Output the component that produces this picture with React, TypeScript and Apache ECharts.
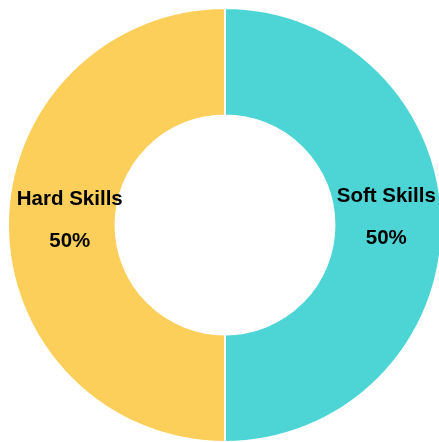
import React, { useEffect, useRef } from "react";
import * as echarts from "echarts";

const categories = ["Soft Skills", "Hard Skills"];
const values = [50, 50];
const colors = ["#4dd4d5", "#fccf5b"];
const labelKeys = ["r", "l"];
const tailKeys = ["er", "el"];

export default function App() {
  const ref = useRef<HTMLDivElement>(null);
  useEffect(() => {
    if (!ref.current) return;
    const chart = echarts.init(ref.current, null, { renderer: "svg" });
    const textBase = {
      color: "#000000",
      fontFamily: "Liberation Sans, Arial, sans-serif",
      fontWeight: "bold",
      fontSize: 20.5,
      lineHeight: 21,
    };
    chart.setOption({
      animation: false,
      series: [
        {
          type: "pie",
          center: [225, 225],
          radius: [109.5, 217],
          startAngle: 90,
          clockwise: true,
          avoidLabelOverlap: false,
          itemStyle: { borderColor: "#ffffff", borderWidth: 2 },
          emphasis: { disabled: true },
          label: {
            show: true,
            position: "inside",
            ...textBase,
            rich: {
              r: { ...textBase, padding: [0, 10, 0, 0] },
              l: { ...textBase, padding: [0, 0, 0, 22] },
              g: { ...textBase, lineHeight: 21 },
              er: { ...textBase, lineHeight: 20 },
              el: { ...textBase, lineHeight: 14 },
            },
          },
          labelLine: { show: false },
          data: categories.map((name, i) => ({
            name,
            value: values[i],
            itemStyle: { color: colors[i] },
            label: {
              formatter: (p: any) =>
                `{${labelKeys[i]}|${p.name}}\n{g| }\n{${labelKeys[i]}|${p.percent}%}\n{${tailKeys[i]}| }`,
            },
          })),
        },
      ],
    });
    return () => chart.dispose();
  }, []);
  return (
    <div
      ref={ref}
      style={{ position: "fixed", left: 0, top: 0, width: 439, height: 442 }}
    />
  );
}
